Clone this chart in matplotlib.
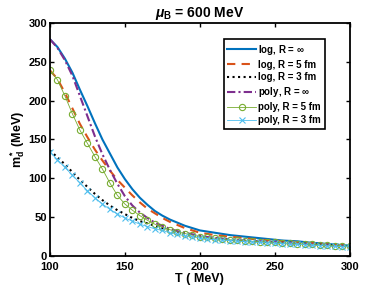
import numpy as np
import matplotlib.pyplot as plt

plt.rcParams['font.family'] = ['Liberation Sans', 'DejaVu Sans']
plt.rcParams['font.weight'] = 'bold'
plt.rcParams['mathtext.fontset'] = 'custom'
plt.rcParams['mathtext.rm'] = 'Liberation Sans:bold'
plt.rcParams['mathtext.it'] = 'Liberation Sans:italic:bold'
plt.rcParams['mathtext.bf'] = 'Liberation Sans:bold'

T = np.arange(100, 301, 5)

log_inf = [279, 269, 254, 236, 214, 193, 171, 150, 132, 114, 99, 86, 75, 66, 58, 52, 47, 43, 39, 36, 33,
           31.5, 30, 28.5, 27, 26, 25, 24, 23, 22, 21, 20, 19.5, 19, 18, 17, 16.5, 15.5, 15, 14, 13.5]
log_r5 = [239, 228, 210, 190, 170, 153, 137, 123, 110, 98, 88, 78, 69, 61, 55, 49, 44, 40, 36, 33, 30,
          28.5, 27, 26, 25, 24, 23, 22, 21, 20.5, 20, 19, 18.5, 18, 17, 16.5, 16, 15, 14.5, 14, 13]
log_r3 = [136, 127, 118, 108, 98, 89, 80, 72, 65, 59, 54, 49, 45, 42, 39, 36, 33, 31, 29, 27, 25,
          24, 23, 22, 21, 20.5, 20, 19, 18.5, 18, 17.5, 17, 16.5, 16, 15.5, 15, 14.5, 14, 13.5, 13, 12.5]
poly_inf = [279, 268, 252, 232, 206, 180, 154, 131, 111, 93, 77, 65, 56, 49, 43, 39, 35, 32, 30, 28, 26,
            24.5, 23.5, 22.5, 21.5, 20.5, 20, 19.5, 19, 18.5, 18, 17.5, 16.5, 16, 15.5, 15, 14.5, 14, 13.5, 13, 12.5]
poly_r5 = [239, 227, 206, 183, 162, 145, 128, 112, 94, 78, 67, 59, 52, 46, 41, 37, 34, 31, 29, 27, 25,
           24, 23, 22, 21, 20.5, 20, 19, 18.5, 18, 17.5, 17, 16.5, 16, 15.5, 15, 14.5, 14, 13.5, 13, 12.5]
poly_r3 = [134, 124, 114, 104, 94, 84, 75, 67, 60, 54, 49, 45, 41, 38, 35, 33, 30, 28, 26, 25, 23,
           22, 21, 20.5, 20, 19, 18.5, 18, 17.5, 17, 16.5, 16, 15.5, 15, 14.5, 14, 13.5, 13, 12.5, 12, 12]

fig = plt.figure(figsize=(3.87, 2.9), dpi=100)
ax = fig.add_axes([0.129, 0.117, 0.775, 0.804])

ax.plot(T, log_inf, '-', color='#0072BD', lw=1.5, label=r'log, R = $\infty$')
ax.plot(T, log_r5, '--', color='#D95319', lw=1.5, dashes=(4, 3), label='log, R = 5 fm')
ax.plot(T, log_r3, ':', color='black', lw=1.5, label='log, R = 3 fm')
ax.plot(T, poly_inf, '-.', color='#7E2F8E', lw=1.5, dashes=(4, 1.5, 1, 1.5), label=r'poly, R = $\infty$')
ax.plot(T, poly_r5, '-', color='#77AC30', lw=0.6, marker='o', ms=4.5, mfc='none', mew=0.8,
        label='poly, R = 5 fm')
ax.plot(T, poly_r3, '-', color='#4DBEEE', lw=0.6, marker='x', ms=4, mew=0.8,
        label='poly, R = 3 fm')

ax.set_xlim(100, 300)
ax.set_ylim(0, 300)
ax.set_xticks(np.arange(100, 301, 50))
ax.set_yticks(np.arange(0, 301, 50))
ax.tick_params(direction='in', top=True, right=True, length=3, width=1, labelsize=8)
ax.tick_params(axis='x', pad=4)
ax.tick_params(axis='y', pad=2)
for s in ax.spines.values():
    s.set_linewidth(1.3)

ax.set_xlabel('T ( MeV)', fontsize=9, fontweight='bold', labelpad=1)
ax.set_ylabel(r'm$_\mathregular{d}^*$ (MeV)', fontsize=9, fontweight='bold', labelpad=1)
ax.set_title(r'$\mu_\mathregular{B}$ = 600 MeV', fontsize=10, fontweight='bold', pad=4)

leg = ax.legend(loc='upper left', bbox_to_anchor=(0.58, 0.93), handlelength=3,
                handletextpad=0.2, labelspacing=0.3, borderpad=0.35, borderaxespad=0,
                fancybox=False, framealpha=1, prop={'weight': 'bold', 'size': 7})
leg.get_frame().set_edgecolor('black')
leg.get_frame().set_linewidth(1.2)

fig.savefig('out.png', dpi=100)
